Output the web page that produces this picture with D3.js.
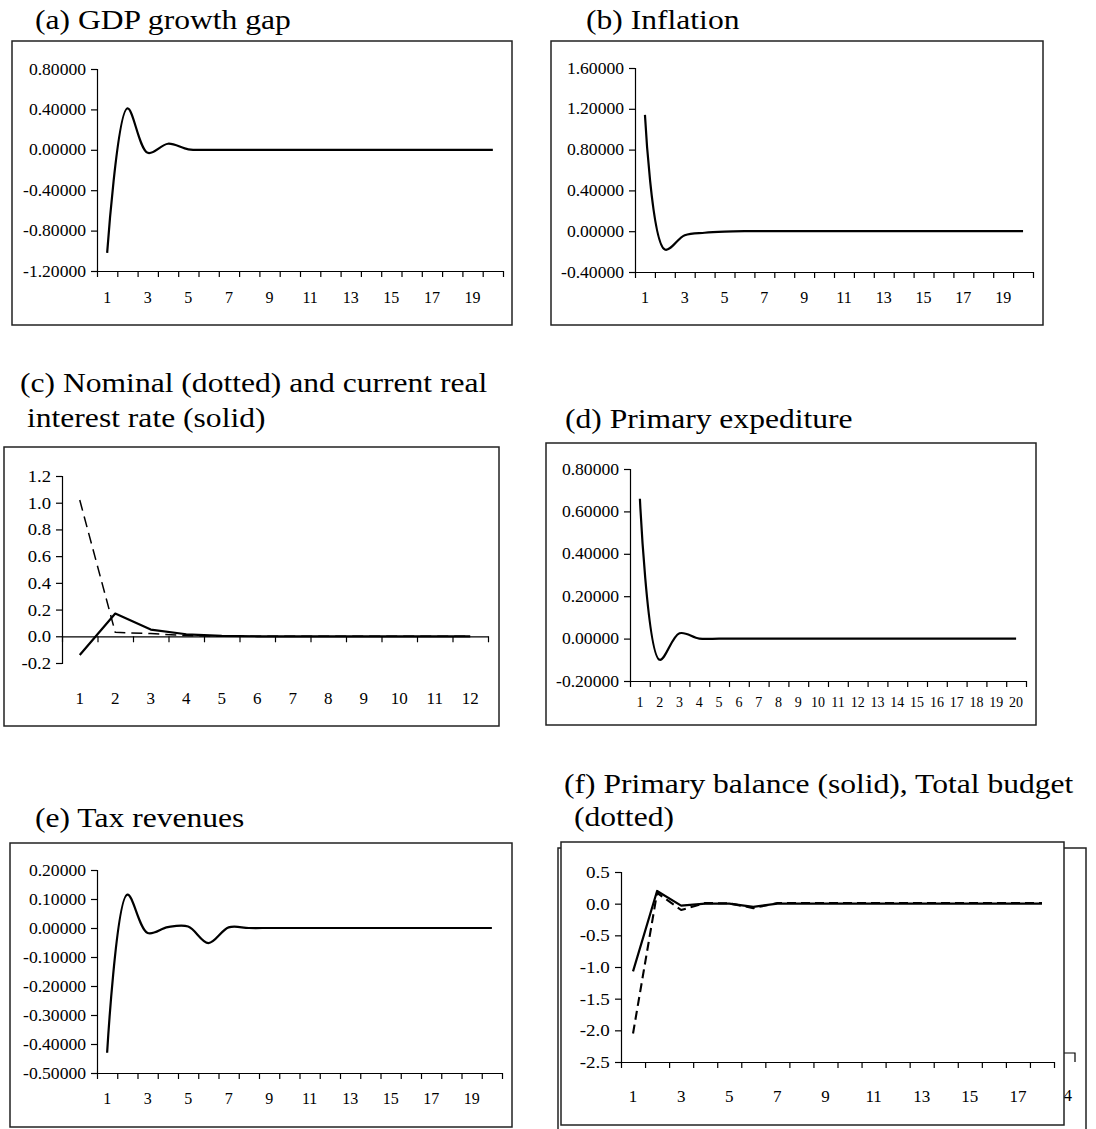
<!DOCTYPE html>
<html>
<head>
<meta charset="utf-8">
<script src="https://cdn.jsdelivr.net/npm/d3@7/dist/d3.min.js"></script>
<style>
  body { margin: 0; background: #fff; }
  svg text { font-family: "Liberation Serif", "Times New Roman", serif; fill: #000; }
</style>
</head>
<body>
<svg id="chart" width="1096" height="1129"></svg>
<script>
// ---- data ----
const periods20 = d3.range(1, 21);
const periods12 = d3.range(1, 13);
const periods18 = d3.range(1, 19);

const gdpGap = [-1.02, 0.41, -0.03, 0.06, 0.005, 0, 0, 0, 0, 0, 0, 0, 0, 0, 0, 0, 0, 0, 0, 0];
const inflation = [1.14, -0.18, -0.04, -0.015, -0.004, 0, 0, 0, 0, 0, 0, 0, 0, 0, 0, 0, 0, 0, 0, 0];
const nominalRate = [1.02, 0.03, 0.02, 0.005, 0, 0, 0, 0, 0, 0, 0, 0];
const realRate = [-0.14, 0.17, 0.05, 0.015, 0.003, 0, 0, 0, 0, 0, 0, 0];
const primaryExp = [0.66, -0.10, 0.025, 0, 0, 0, 0, 0, 0, 0, 0, 0, 0, 0, 0, 0, 0, 0, 0, 0];
const taxRevenue = [-0.43, 0.115, -0.017, 0.003, 0.005, -0.052, 0.002, 0, 0, 0, 0, 0, 0, 0, 0, 0, 0, 0, 0, 0];
const primaryBalance = [-1.07, 0.20, -0.03, 0, 0, -0.05, 0, 0, 0, 0, 0, 0, 0, 0, 0, 0, 0, 0];
const totalBudget = [-2.05, 0.17, -0.10, 0.01, 0.005, -0.07, 0.01, 0.01, 0.01, 0.01, 0.01, 0.01, 0.01, 0.01, 0.01, 0.01, 0.01, 0.01];

const ticksA = [-1.2, -0.8, -0.4, 0, 0.4, 0.8];
const ticksB = [-0.4, 0, 0.4, 0.8, 1.2, 1.6];
const ticksC = [-0.2, 0, 0.2, 0.4, 0.6, 0.8, 1.0, 1.2];
const ticksD = [-0.2, 0, 0.2, 0.4, 0.6, 0.8];
const ticksE = [-0.5, -0.4, -0.3, -0.2, -0.1, 0, 0.1, 0.2];
const ticksF = [-2.5, -2.0, -1.5, -1.0, -0.5, 0, 0.5];

const svg = d3.select('#chart');
const loc = d3.formatLocale({ decimal: '.', thousands: ',', grouping: [3], currency: ['', ''], minus: '-' });
const fmt5 = loc.format('.5f');
const fmt1 = loc.format('.1f');
const SERIF = '"Liberation Serif", "Times New Roman", serif';
const SANS = '"Liberation Sans", Arial, sans-serif';

function drawTitle(lines, x, y, lineGap) {
    lines.forEach((t, i) => {
        svg.append('g')
            .attr('transform', `translate(${x + (i ? t.indent : 0)},${y + i * lineGap}) scale(1.17,1)`)
            .append('text')
            .attr('font-size', 27)
            .text(t.text);
    });
}

function drawBox(b) {
    svg.append('rect')
        .attr('x', b.x).attr('y', b.y).attr('width', b.w).attr('height', b.h)
        .attr('fill', '#fff').attr('stroke', '#222').attr('stroke-width', 1.5);
}

function drawPanel(p) {
    const g = svg.append('g');
    const n = p.categories.length;
    const y = d3.scaleLinear().domain(p.yDomain).range([p.yBot, p.yTop]);
    const xEdge = d3.scaleLinear().domain([0, n]).range([p.x0, p.x1]);
    const xBand = d3.scaleBand().domain(p.categories).range([p.x0, p.x1]);
    const cx = i => xBand(p.categories[i]) + xBand.bandwidth() / 2;

    // y axis
    const ya = g.append('g')
        .attr('transform', `translate(${p.x0},0)`)
        .call(d3.axisLeft(y).tickValues(p.yTicks).tickSize(6).tickPadding(4).tickFormat(p.yFormat));
    ya.select('.domain').attr('stroke', '#000').attr('stroke-width', 1.2);
    ya.selectAll('.tick line').attr('stroke', '#000').attr('stroke-width', 1.2);
    ya.selectAll('.tick text')
        .attr('font-size', p.yFont)
        .attr('font-family', SERIF)
        .attr('transform', `scale(${p.yStretch},1)`);

    // x axis line, ticks between categories
    const axisY = y(p.xAxisAt);
    const xa = g.append('g')
        .attr('transform', `translate(0,${axisY})`)
        .call(d3.axisBottom(xEdge).tickValues(d3.range(0, n + 1)).tickSize(6).tickSizeOuter(0).tickFormat(''));
    xa.select('.domain').attr('stroke', '#000').attr('stroke-width', 1.2);
    xa.selectAll('.tick line').attr('stroke', '#000').attr('stroke-width', 1.2);

    // category labels, sitting low like Excel's
    const xl = g.append('g')
        .attr('transform', `translate(0,${p.labelY})`)
        .call(d3.axisBottom(xBand).tickSize(0).tickPadding(0)
            .tickFormat((d, i) => (i % p.labelStep === 0 ? d : '')));
    xl.select('.domain').remove();
    xl.selectAll('.tick text')
        .attr('font-size', p.xFont)
        .attr('font-family', p.xFamily || SERIF)
        .attr('dy', '0.35em')
        .attr('transform', `scale(${p.xStretch},1)`);

    // series
    p.series.forEach(s => {
        const line = d3.line()
            .x((d, i) => cx(i))
            .y(d => y(d))
            .curve(s.smooth ? d3.curveCatmullRom : d3.curveLinear);
        g.append('path')
            .datum(s.values)
            .attr('fill', 'none')
            .attr('stroke', '#000')
            .attr('stroke-width', s.width)
            .attr('stroke-dasharray', s.dash || null)
            .attr('stroke-linejoin', 'round')
            .attr('d', line);
    });
}

// ---- (a) ----
drawTitle([{ text: '(a) GDP growth gap' }], 35, 29, 0);
drawBox({ x: 12, y: 41, w: 500, h: 284 });
drawPanel({
    categories: periods20, yDomain: [-1.2, 0.8], yTicks: ticksA, yFormat: fmt5,
    x0: 97, x1: 503, yTop: 69, yBot: 271, xAxisAt: -1.2, labelY: 297, labelStep: 2,
    yFont: 16, yStretch: 1.1, xFont: 16, xStretch: 1.0,
    series: [{ values: gdpGap, width: 2.2, smooth: true }]
});

// ---- (b) ----
drawTitle([{ text: '(b) Inflation' }], 586, 29, 0);
drawBox({ x: 551, y: 41, w: 492, h: 284 });
drawPanel({
    categories: periods20, yDomain: [-0.4, 1.6], yTicks: ticksB, yFormat: fmt5,
    x0: 635, x1: 1033, yTop: 68, yBot: 272, xAxisAt: -0.4, labelY: 297, labelStep: 2,
    yFont: 16, yStretch: 1.1, xFont: 16, xStretch: 1.0,
    series: [{ values: inflation, width: 2.2, smooth: true }]
});

// ---- (c) ----
drawTitle([{ text: '(c) Nominal (dotted) and current real' }, { text: 'interest rate (solid)', indent: 7 }], 20, 392, 35);
drawBox({ x: 4, y: 447, w: 495, h: 279 });
drawPanel({
    categories: periods12, yDomain: [-0.2, 1.2], yTicks: ticksC, yFormat: fmt1,
    x0: 62, x1: 488, yTop: 476, yBot: 663, xAxisAt: 0, labelY: 698, labelStep: 1,
    yFont: 17, yStretch: 1.1, xFont: 17, xStretch: 1.0,
    series: [
        { values: nominalRate, width: 1.5, dash: '11,6', smooth: false },
        { values: realRate, width: 2.2, smooth: false }
    ]
});

// ---- (d) ----
drawTitle([{ text: '(d) Primary expediture' }], 565, 428, 0);
drawBox({ x: 546, y: 443, w: 490, h: 282 });
drawPanel({
    categories: periods20, yDomain: [-0.2, 0.8], yTicks: ticksD, yFormat: fmt5,
    x0: 630, x1: 1026, yTop: 469, yBot: 681, xAxisAt: -0.2, labelY: 702, labelStep: 1,
    yFont: 16, yStretch: 1.1, xFont: 14, xFamily: SANS, xStretch: 1.0,
    series: [{ values: primaryExp, width: 2.2, smooth: true }]
});

// ---- (e) ----
drawTitle([{ text: '(e) Tax revenues' }], 35, 827, 0);
drawBox({ x: 10, y: 843, w: 502, h: 284 });
drawPanel({
    categories: periods20, yDomain: [-0.5, 0.2], yTicks: ticksE, yFormat: fmt5,
    x0: 97, x1: 502, yTop: 870, yBot: 1073, xAxisAt: -0.5, labelY: 1098, labelStep: 2,
    yFont: 16, yStretch: 1.1, xFont: 16, xStretch: 1.0,
    series: [{ values: taxRevenue, width: 2.2, smooth: true }]
});

// ---- (f) ----
drawTitle([{ text: '(f) Primary balance (solid), Total budget' }, { text: '(dotted)', indent: 10 }], 564, 793, 33);
// an older copy of the chart sits behind, only its edges show
drawBox({ x: 558, y: 848, w: 528, h: 290 });
svg.append('path')
    .attr('d', 'M1064,1053H1075V1062')
    .attr('fill', 'none').attr('stroke', '#000').attr('stroke-width', 1.2);
svg.append('text').attr('x', 1055).attr('y', 1101).attr('font-size', 17).text('14');
drawBox({ x: 561, y: 842, w: 503, h: 283 });
drawPanel({
    categories: periods18, yDomain: [-2.5, 0.5], yTicks: ticksF, yFormat: fmt1,
    x0: 621, x1: 1054, yTop: 872, yBot: 1062, xAxisAt: -2.5, labelY: 1096, labelStep: 2,
    yFont: 17, yStretch: 1.12, xFont: 17, xStretch: 1.0,
    series: [
        { values: totalBudget, width: 2.1, dash: '9,5', smooth: false },
        { values: primaryBalance, width: 2.2, smooth: false }
    ]
});
</script>
</body>
</html>
